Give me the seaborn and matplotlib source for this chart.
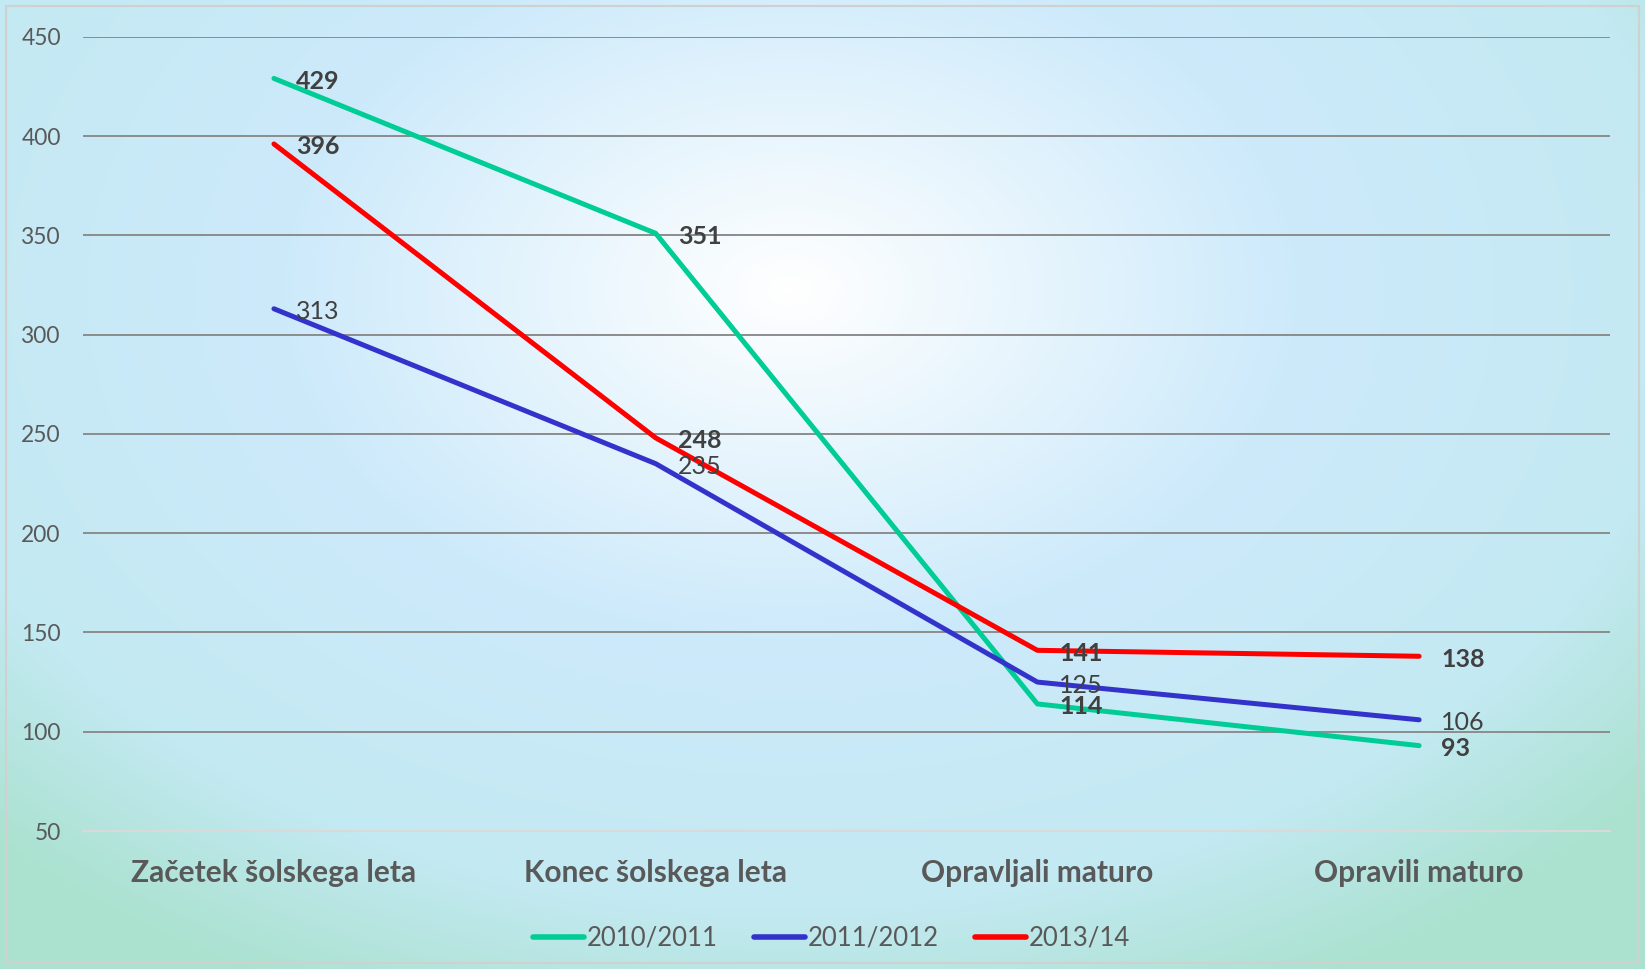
import numpy as np
import pandas as pd
import matplotlib
matplotlib.use("Agg")
import matplotlib.pyplot as plt
from matplotlib.colors import LinearSegmentedColormap
from matplotlib.patches import Rectangle
import seaborn as sns

categories = ["Začetek šolskega leta", "Konec šolskega leta", "Opravljali maturo", "Opravili maturo"]
series_names = ["2010/2011", "2011/2012", "2013/14"]
values_2010 = [429, 351, 114, 93]
values_2011 = [313, 235, 125, 106]
values_2013 = [396, 248, 141, 138]
bold_labels = {"2010/2011": True, "2011/2012": False, "2013/14": True}
colors = {"2010/2011": "#00cc96", "2011/2012": "#3333cc", "2013/14": "#ff0000"}
y_ticks = [50, 100, 150, 200, 250, 300, 350, 400, 450]

rows = []
for name, vals in zip(series_names, [values_2010, values_2011, values_2013]):
    for i, (cat, v) in enumerate(zip(categories, vals)):
        rows.append({"kategorija": cat, "pos": i, "leto": name, "vrednost": v})
df = pd.DataFrame(rows)

sns.set_theme(style="white")
plt.rcParams["font.family"] = ["Lato", "DejaVu Sans"]

fig = plt.figure(figsize=(16.45, 9.69), dpi=100)

# background gradient
bg = fig.add_axes([0, 0, 1, 1], zorder=-10)
h, w = 969, 1645
yy, xx = np.mgrid[0:h, 0:w]
d = np.sqrt(((xx - 790) / 900.0) ** 2 + ((yy - 290) / 620.0) ** 2)
cmap = LinearSegmentedColormap.from_list(
    "bg", [(0, "#ffffff"), (0.45, "#cdeafb"), (0.8, "#c3e9f2"), (1.0, "#abe2d0")])
bg.imshow(np.clip(d / 1.25, 0, 1), cmap=cmap, vmin=0, vmax=1, aspect="auto",
          extent=[0, 1, 0, 1], origin="upper")
bg.set_axis_off()
bg.add_patch(Rectangle((6 / w, 6 / h), 1 - 12 / w, 1 - 12 / h, transform=bg.transAxes,
                       fill=False, edgecolor="#d0d0d0", linewidth=1.5))

ax = fig.add_axes([0.0505, 0.1424, 0.9282, 0.8197])
ax.patch.set_alpha(0)

sns.lineplot(data=df, x="pos", y="vrednost", hue="leto", palette=colors,
             hue_order=series_names, linewidth=3.6, sort=False, ax=ax,
             solid_capstyle="round")

for name in series_names:
    sub = df[df["leto"] == name]
    for _, r in sub.iterrows():
        ax.annotate(str(r["vrednost"]), (r["pos"], r["vrednost"]),
                    xytext=(22, -3), textcoords="offset pixels",
                    ha="left", va="center", fontsize=18,
                    fontweight="bold" if bold_labels[name] else "normal",
                    color="#404040", zorder=5)

ax.set_xlim(-0.5, 3.5)
ax.set_ylim(50, 450)
ax.set_yticks(y_ticks)
ax.set_xticks(range(len(categories)))
ax.set_xticklabels(categories, fontsize=21.5, fontweight="bold", color="#595959")
ax.tick_params(axis="x", length=0, pad=20)
ax.tick_params(axis="y", length=0, pad=16, labelsize=16.4, labelcolor="#595959")
ax.set_xlabel("")
ax.set_ylabel("")
for s in ["top", "right", "left"]:
    ax.spines[s].set_visible(False)
ax.spines["bottom"].set_color("#d9d9d9")
ax.spines["bottom"].set_linewidth(1.5)
for t in y_ticks[1:]:
    ax.axhline(t, color="#8c8c8c", linewidth=1.4, zorder=0)

leg = ax.legend(loc="upper center", bbox_to_anchor=(0.49, -0.09), ncol=3, frameon=False,
                fontsize=18.5, handlelength=2.0, handletextpad=0.1, columnspacing=1.4)
for t in leg.get_texts():
    t.set_color("#595959")
for l in leg.get_lines():
    l.set_linewidth(4)

fig.savefig("out.png", dpi=100)
